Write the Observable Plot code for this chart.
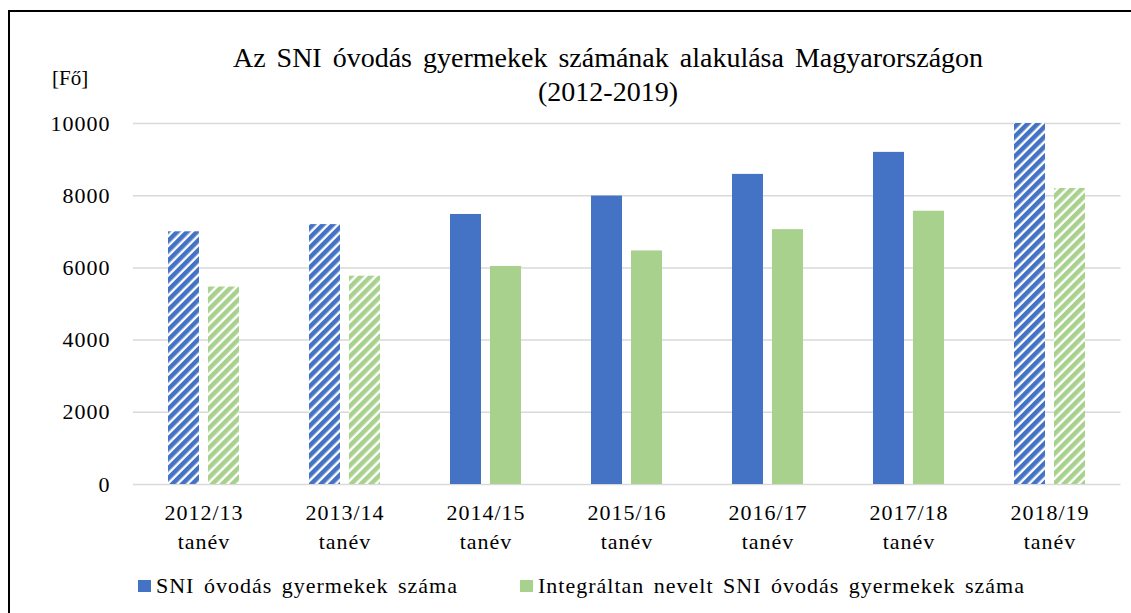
<!DOCTYPE html>
<html>
<head>
<meta charset="utf-8">
<script src="https://cdn.jsdelivr.net/npm/d3@7"></script>
<script src="https://cdn.jsdelivr.net/npm/@observablehq/plot@0.6"></script>
<style>
  html, body { margin: 0; padding: 0; background: #fff; width: 1131px; height: 613px; overflow: hidden; }
  body { position: relative; color: #000; font-family: 'Liberation Serif'; }
  #chart text { letter-spacing: 1px; }
  #frame { position: absolute; left: 8px; top: 10px; width: 1123px; height: 603px; border-left: 2px solid #000; border-top: 2px solid #000; box-sizing: border-box; }
  .t { position: absolute; white-space: nowrap; }
  #title { left: 0; width: 1216px; top: 42px; text-align: center; font-size: 28px; line-height: 32px; word-spacing: 4px; }
  #subtitle { left: 0; width: 1216px; top: 76px; text-align: center; font-size: 28px; line-height: 32px; }
  #unit { left: 52px; top: 66px; font-size: 21px; line-height: 24px; }
  #chart { position: absolute; left: 0; top: 109px; }
  #legend { position: absolute; top: 572px; left: 138px; font-size: 22px; line-height: 28px; display: flex; align-items: center; white-space: nowrap; letter-spacing: 1px; word-spacing: 3px; }
  .item { display: flex; align-items: center; }
  .sw { width: 13px; height: 12px; margin-right: 5px; }
</style>
</head>
<body>
<div id="frame"></div>
<svg width="0" height="0" style="position:absolute">
  <defs>
    <pattern id="hatch-blue" patternUnits="userSpaceOnUse" width="7" height="7" patternTransform="rotate(45)">
      <rect width="7" height="7" fill="#ffffff"></rect>
      <rect width="4.6" height="7" fill="#4472C4"></rect>
    </pattern>
    <pattern id="hatch-green" patternUnits="userSpaceOnUse" width="7" height="7" patternTransform="rotate(45)">
      <rect width="7" height="7" fill="#ffffff"></rect>
      <rect width="4.6" height="7" fill="#A9D18E"></rect>
    </pattern>
  </defs>
</svg>
<div id="title" class="t" style="font-family:'Liberation Serif'">Az SNI óvodás gyermekek számának alakulása Magyarországon</div>
<div id="subtitle" class="t" style="font-family:'Liberation Serif'">(2012-2019)</div>
<div id="unit" class="t" style="font-family:'Liberation Serif'">[Fő]</div>
<div id="chart"></div>
<div id="legend" style="font-family:'Liberation Serif'">
  <div class="item" style="margin-right:62px"><div class="sw" style="background:#4472C4"></div><div style="font-family:'Liberation Serif'">SNI óvodás gyermekek száma</div></div>
  <div class="item"><div class="sw" style="background:#A9D18E"></div><div style="font-family:'Liberation Serif'">Integráltan nevelt SNI óvodás gyermekek száma</div></div>
</div>
<script>
// ---- data ----
const years = ["2012/13", "2013/14", "2014/15", "2015/16", "2016/17", "2017/18", "2018/19"];
const yearSuffix = "tanév";
const sniTotal = [7000, 7200, 7480, 7990, 8590, 9200, 10000];
const sniIntegrated = [5470, 5770, 6040, 6470, 7060, 7570, 8200];
const hatched = [true, true, false, false, false, false, true];
const seriesNames = ["SNI óvodás gyermekek száma", "Integráltan nevelt SNI óvodás gyermekek száma"];
const seriesColors = ["#4472C4", "#A9D18E"];
const seriesPatterns = ["url(#hatch-blue)", "url(#hatch-green)"];
const yTicks = [0, 2000, 4000, 6000, 8000, 10000];

// ---- build rows ----
const rows = [];
years.forEach((y, i) => {
  rows.push({year: y, s: 0, value: sniTotal[i], hatched: hatched[i]});
  rows.push({year: y, s: 1, value: sniIntegrated[i], hatched: hatched[i]});
});
const fillOf = d => d.hatched ? seriesPatterns[d.s] : seriesColors[d.s];

const W = 1131, H = 450;
const chart = Plot.plot({
  width: W,
  height: H,
  marginLeft: 133,
  marginRight: 10.5,
  marginTop: 14,
  marginBottom: H - 14 - 361,
  style: {fontFamily: "'Liberation Serif'", fontSize: "22px", background: "transparent", color: "#000", overflow: "visible"},
  x: {domain: years, paddingInner: 0.777, paddingOuter: 0.3885, axis: null},
  y: {domain: [0, 10000], axis: null},
  color: {type: "identity"},
  marks: [
    Plot.ruleY(yTicks, {stroke: "#d9d9d9", strokeWidth: 1.5}),
    Plot.barY(rows.filter(d => d.s === 0), {x: "year", y: "value", fill: fillOf, dx: -20}),
    Plot.barY(rows.filter(d => d.s === 1), {x: "year", y: "value", fill: fillOf, dx: 20}),
    Plot.text(yTicks, {y: d => d, frameAnchor: "left", dx: -23, textAnchor: "end", text: d => String(d), fontSize: 22, fontFamily: "'Liberation Serif'", fill: "#000"}),
    Plot.text(years, {x: d => d, frameAnchor: "bottom", lineAnchor: "top", dy: 15, text: d => d + "\n" + yearSuffix, fontSize: 22, fontFamily: "'Liberation Serif'", lineHeight: 1.32, fill: "#000"})
  ]
});
document.getElementById("chart").appendChild(chart);
</script>
</body>
</html>
